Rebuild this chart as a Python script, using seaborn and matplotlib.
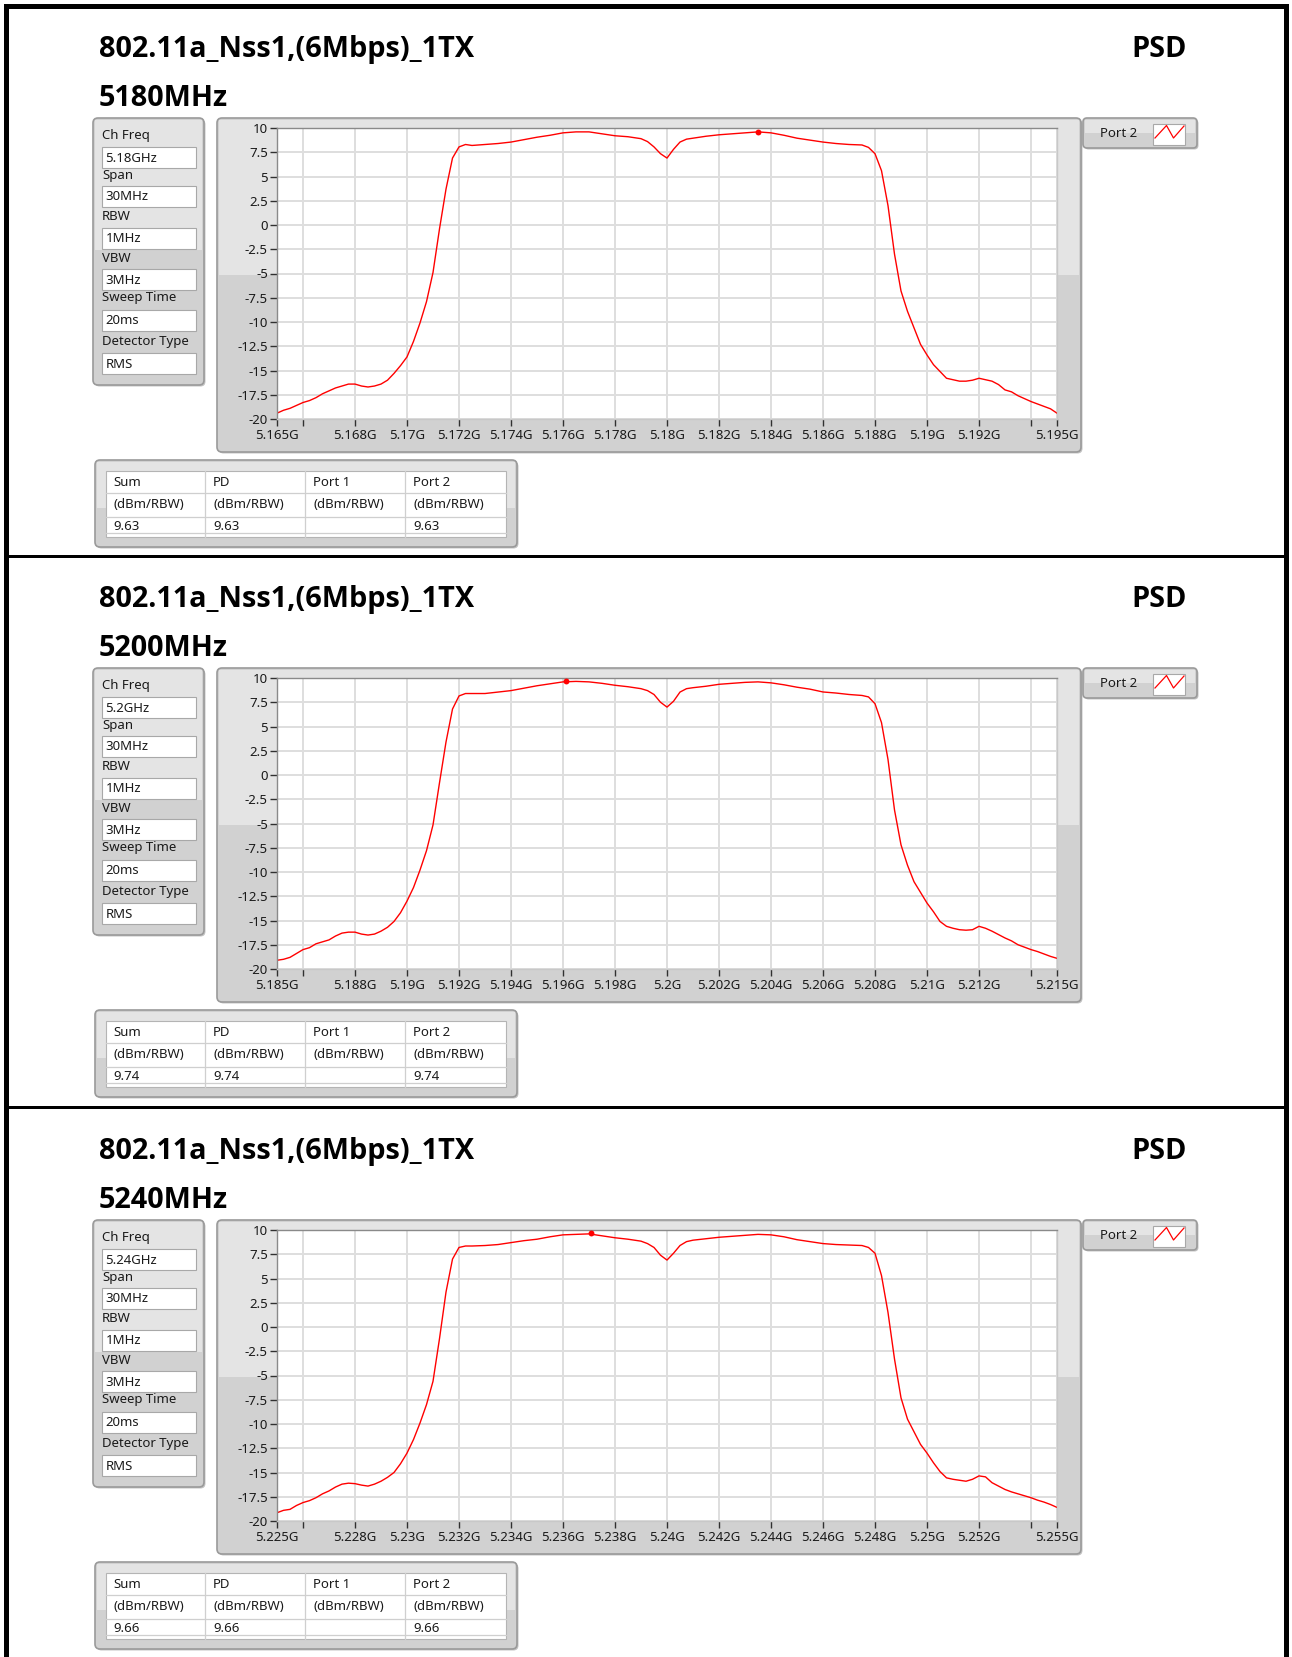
import matplotlib
matplotlib.use("Agg")
import matplotlib.pyplot as plt
from matplotlib.patches import FancyBboxPatch, Rectangle
import pandas as pd
import seaborn as sns

# ---------------- data ----------------
title_text = "802.11a_Nss1,(6Mbps)_1TX"
psd_label = "PSD"
channels_mhz = [5180, 5200, 5240]
ch_freq_text = ["5.18GHz", "5.2GHz", "5.24GHz"]
setting_labels = ["Ch Freq", "Span", "RBW", "VBW", "Sweep Time", "Detector Type"]
span_text = "30MHz"
rbw_text = "1MHz"
vbw_text = "3MHz"
sweep_text = "20ms"
detector_text = "RMS"
table_headers = ["Sum", "PD", "Port 1", "Port 2"]
table_unit = "(dBm/RBW)"
sum_dbm = [9.63, 9.74, 9.66]
pd_dbm = [9.63, 9.74, 9.66]
port2_dbm = [9.63, 9.74, 9.66]
peak_freq_ghz = [5.1835, 5.19612, 5.23709]
legend_label = "Port 2"

# frequency offset from channel centre (MHz)
offset_mhz = [
    -15, -14.75, -14.5, -14.25, -14, -13.75, -13.5, -13.25, -13, -12.75,
    -12.5, -12.25, -12, -11.75, -11.5, -11.25, -11, -10.75, -10.5, -10.25,
    -10, -9.75, -9.5, -9.25, -9, -8.75, -8.5, -8.25, -8, -7.75, -7.5,
    -7, -6.5, -6, -5.5, -5, -4.5, -4, -3.5, -3, -2.5, -2, -1.5, -1,
    -0.75, -0.5, -0.25, 0, 0.25, 0.5, 0.75, 1,
    1.5, 2, 2.5, 3, 3.5, 4, 4.5, 5, 5.5, 6, 6.5, 7, 7.5,
    7.75, 8, 8.25, 8.5, 8.75, 9, 9.25, 9.5, 9.75, 10, 10.25, 10.5, 10.75,
    11, 11.25, 11.5, 11.75, 12, 12.25, 12.5, 12.75, 13, 13.25, 13.5, 13.75,
    14, 14.25, 14.5, 14.75, 15,
]

psd_5180 = [
    -19.4, -19.1, -18.9, -18.6, -18.3, -18.1, -17.8, -17.4, -17.1, -16.8,
    -16.6, -16.4, -16.4, -16.6, -16.7, -16.6, -16.4, -16.0, -15.3, -14.5,
    -13.6, -12.0, -10.1, -7.9, -4.9, -0.4, 3.7, 6.9, 8.05, 8.3, 8.2,
    8.3, 8.4, 8.55, 8.8, 9.05, 9.25, 9.5, 9.6, 9.6, 9.4, 9.2, 9.1, 8.9,
    8.6, 8.05, 7.35, 6.9, 7.8, 8.55, 8.85, 8.95,
    9.15, 9.3, 9.4, 9.5, 9.6, 9.5, 9.25, 8.95, 8.75, 8.55, 8.4, 8.3, 8.25,
    8.0, 7.35, 5.6, 2.0, -3.0, -6.8, -8.9, -10.6, -12.3, -13.4, -14.4, -15.1, -15.8,
    -15.95, -16.1, -16.1, -16.0, -15.8, -15.95, -16.1, -16.45, -17.0, -17.2, -17.6, -17.9,
    -18.2, -18.45, -18.7, -18.95, -19.4,
]

psd_5200 = [
    -19.1, -19.0, -18.8, -18.4, -18.0, -17.8, -17.4, -17.2, -17.0, -16.6,
    -16.3, -16.2, -16.2, -16.4, -16.5, -16.4, -16.1, -15.7, -15.1, -14.2,
    -13.0, -11.6, -9.8, -7.8, -5.15, -0.8, 3.4, 6.8, 8.15, 8.4, 8.4,
    8.4, 8.55, 8.7, 8.95, 9.2, 9.4, 9.6, 9.65, 9.6, 9.45, 9.25, 9.1, 8.9,
    8.7, 8.3, 7.5, 7.0, 7.6, 8.55, 8.9, 9.0,
    9.15, 9.35, 9.45, 9.55, 9.6, 9.5, 9.3, 9.05, 8.85, 8.56, 8.45, 8.3, 8.2,
    8.05, 7.35, 5.4, 1.6, -3.6, -7.2, -9.3, -11.0, -12.1, -13.2, -14.1, -15.1, -15.6,
    -15.8, -15.95, -16.0, -15.95, -15.6, -15.8, -16.1, -16.45, -16.8, -17.1, -17.5, -17.75,
    -18.0, -18.2, -18.45, -18.7, -18.9,
]

psd_5240 = [
    -19.15, -18.9, -18.8, -18.4, -18.1, -17.9, -17.6, -17.2, -16.9, -16.5,
    -16.2, -16.1, -16.15, -16.3, -16.4, -16.2, -15.9, -15.5, -15.0, -14.1,
    -13.0, -11.6, -9.9, -8.0, -5.6, -1.2, 3.6, 7.0, 8.2, 8.35, 8.35,
    8.4, 8.5, 8.7, 8.9, 9.05, 9.3, 9.5, 9.55, 9.6, 9.4, 9.2, 9.05, 8.85,
    8.6, 8.2, 7.4, 6.9, 7.6, 8.4, 8.8, 8.95,
    9.1, 9.25, 9.35, 9.45, 9.55, 9.5, 9.3, 9.0, 8.8, 8.6, 8.5, 8.45, 8.4,
    8.2, 7.6, 5.3, 1.5, -3.3, -7.3, -9.5, -10.8, -12.1, -13.0, -14.0, -14.9, -15.55,
    -15.7, -15.8, -15.9, -15.7, -15.35, -15.45, -16.05, -16.4, -16.75, -17.0, -17.2, -17.4,
    -17.6, -17.85, -18.05, -18.3, -18.6,
]

psd_traces = [psd_5180, psd_5200, psd_5240]

# ---------------- figure setup ----------------
plt.rcParams["font.family"] = ["Noto Sans", "DejaVu Sans"]
plt.rcParams["axes.unicode_minus"] = False
HEAD_FONT = ["Open Sans", "DejaVu Sans"]

W, H = 1292, 1657
fig = plt.figure(figsize=(W / 100, H / 100), dpi=100)
fig.patch.set_facecolor("white")

# full-figure canvas in pixel units (y downwards) for panel chrome
bg = fig.add_axes([0, 0, 1, 1], zorder=0)
bg.set_xlim(0, W)
bg.set_ylim(H, 0)
bg.axis("off")

UI_SIZE = 9.5
EDGE = "#9a9a9a"
LIGHT = "#e4e4e4"
DARK = "#d1d1d1"


def panel_box(x0, y0, x1, y1, split=None, r=5):
    """LabVIEW style raised grey box with a lighter upper half."""
    bg.add_patch(FancyBboxPatch((x0 + 1.5, y0 + 1.5), x1 - x0, y1 - y0,
                                boxstyle=f"round,pad=0,rounding_size={r}",
                                fc="#c4c4c4", ec="none", zorder=1))
    bg.add_patch(FancyBboxPatch((x0, y0), x1 - x0, y1 - y0,
                                boxstyle=f"round,pad=0,rounding_size={r}",
                                fc=DARK, ec=EDGE, lw=1.2, zorder=1.1))
    if split is not None:
        bg.add_patch(Rectangle((x0 + 2, y0 + 2), x1 - x0 - 4, split - y0 - 2,
                               fc=LIGHT, ec="none", zorder=1.2))


def field(x0, y0, x1, y1):
    bg.add_patch(Rectangle((x0, y0), x1 - x0, y1 - y0, fc="white",
                           ec="#a8a8a8", lw=0.8, zorder=1.5))


def fmt_ghz(mhz):
    return f"{mhz / 1000:.3f}".rstrip("0").rstrip(".") + "G"


def fmt_db(v):
    return f"{v:g}"


panel_offsets = [0, 550, 1102]

for k, ch in enumerate(channels_mhz):
    oy = panel_offsets[k]

    # headings
    head_kw = dict(fontsize=20.8, fontweight="bold", family=HEAD_FONT,
                   va="baseline", color="black", zorder=3)
    bg.text(99, 57 + oy, title_text, ha="left", **head_kw)
    bg.text(99, 106 + oy, f"{ch}MHz", ha="left", **head_kw)
    bg.text(1187, 57 + oy, psd_label, ha="right", **head_kw)

    # settings block
    panel_box(93, 118 + oy, 204, 385 + oy, split=250 + oy)
    label_y = [135, 175, 217, 258, 298, 341]
    field_top = [147, 186, 228, 269, 310, 353]
    values = [ch_freq_text[k], span_text, rbw_text, vbw_text, sweep_text, detector_text]
    for lab, ly, ft, val in zip(setting_labels, label_y, field_top, values):
        bg.text(102, ly + oy, lab, fontsize=UI_SIZE, va="center", ha="left",
                color="#1a1a1a", zorder=3)
        field(102, ft + oy, 196, ft + 21 + oy)
        bg.text(105.5, ft + 11 + oy, val, fontsize=UI_SIZE, va="center",
                ha="left", color="#1a1a1a", zorder=3)

    # graph frame
    panel_box(217, 118 + oy, 1081, 452 + oy, split=275 + oy)

    # legend block
    panel_box(1083, 118 + oy, 1197, 148 + oy, split=133 + oy, r=4)
    bg.text(1100, 133.5 + oy, legend_label, fontsize=UI_SIZE, va="center",
            ha="left", color="#1a1a1a", zorder=3)
    field(1153, 124 + oy, 1185, 145 + oy)
    bg.plot([1155, 1166.5, 1173.5, 1184], [138 + oy, 125.5 + oy, 138 + oy, 126 + oy],
            color="red", lw=0.9, zorder=4)

    # results table
    panel_box(95, 460 + oy, 517, 547 + oy, split=508 + oy)
    bg.add_patch(Rectangle((106, 471 + oy), 400, 66, fc="white",
                           ec="#b4b4b4", lw=0.8, zorder=1.5))
    for xv in [205, 305, 405]:
        bg.plot([xv, xv], [471 + oy, 537 + oy], color="#cfcfcf", lw=0.9, zorder=1.6)
    for yv in [493, 517, 533]:
        bg.plot([106, 506], [yv + oy, yv + oy], color="#cfcfcf", lw=0.9, zorder=1.6)
    col_x = [113, 213, 313, 413]
    row_vals = [f"{sum_dbm[k]:.2f}", f"{pd_dbm[k]:.2f}", "", f"{port2_dbm[k]:.2f}"]
    for cx, head, val in zip(col_x, table_headers, row_vals):
        bg.text(cx, 482 + oy, head, fontsize=UI_SIZE, va="center", ha="left",
                color="#1a1a1a", zorder=3)
        bg.text(cx, 505 + oy, table_unit, fontsize=UI_SIZE, va="center",
                ha="left", color="#1a1a1a", zorder=3)
        bg.text(cx, 526 + oy, val, fontsize=UI_SIZE, va="center", ha="left",
                color="#1a1a1a", zorder=3)

    # spectrum plot
    left, right, top, bottom = 277, 1057, 128 + oy, 419 + oy
    ax = fig.add_axes([left / W, 1 - bottom / H, (right - left) / W, (bottom - top) / H],
                      zorder=2)
    ax.set_facecolor("white")
    df = pd.DataFrame({
        "freq": [(ch + o) / 1000 for o in offset_mhz],
        "psd": psd_traces[k],
    })
    sns.lineplot(data=df, x="freq", y="psd", ax=ax, color="#ff0000", lw=1.0,
                 estimator=None, sort=False, legend=False)
    ax.scatter([peak_freq_ghz[k]], [port2_dbm[k]], s=18, color="#ff0000",
               zorder=5, linewidths=0)

    ax.set_xlim((ch - 15) / 1000, (ch + 15) / 1000)
    ax.set_ylim(-20, 10)
    xt = [ch - 15] + list(range(ch - 14, ch + 15, 2)) + [ch + 15]
    ax.set_xticks([m / 1000 for m in xt])
    ax.set_xticklabels(["" if m in (ch - 14, ch + 14) else fmt_ghz(m) for m in xt])
    yt = [-20 + 2.5 * i for i in range(13)]
    ax.set_yticks(yt)
    ax.set_yticklabels([fmt_db(v) for v in yt])
    ax.grid(True, color="#dedede", lw=1.4)
    ax.set_axisbelow(True)
    ax.set_xlabel("")
    ax.set_ylabel("")
    ax.tick_params(axis="both", direction="out", colors="#303030", labelcolor="#1a1a1a",
                   labelsize=UI_SIZE, width=1.0)
    ax.tick_params(axis="y", length=5, pad=1.5)
    ax.tick_params(axis="x", length=5, pad=2)
    for side in ["left", "top"]:
        ax.spines[side].set_color("#8a8a8a")
        ax.spines[side].set_linewidth(1.0)
    for side in ["right", "bottom"]:
        ax.spines[side].set_color("#c8c8c8")
        ax.spines[side].set_linewidth(1.0)

# outer black frame and panel separators
bg.add_patch(Rectangle((4, 4), 1285, 5, fc="black", ec="none", zorder=5))
bg.add_patch(Rectangle((4, 4), 5, H - 4, fc="black", ec="none", zorder=5))
bg.add_patch(Rectangle((1284, 4), 5, H - 4, fc="black", ec="none", zorder=5))
for sy in [555, 1106]:
    bg.add_patch(Rectangle((4, sy), 1285, 3, fc="black", ec="none", zorder=5))

fig.savefig("out.png", dpi=100, facecolor="white")
